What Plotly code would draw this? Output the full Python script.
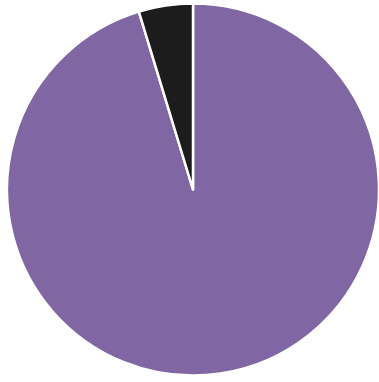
import plotly.graph_objects as go

labels = ["Purple", "Black"]
values = [95.3, 4.7]
colors = ["#8067a4", "#1c1c1c"]

W, H = 379, 382

fig = go.Figure(
    go.Pie(
        labels=labels,
        values=values,
        sort=False,
        direction="clockwise",
        rotation=0,
        marker=dict(colors=colors, line=dict(color="white", width=2.5)),
        textinfo="none",
        hoverinfo="label+percent",
        domain=dict(x=[7 / W, 379 / W], y=[6 / H, 379 / H]),
    )
)

fig.update_layout(
    width=W,
    height=H,
    margin=dict(l=0, r=0, t=0, b=0),
    showlegend=False,
    paper_bgcolor="white",
    plot_bgcolor="white",
)

fig.write_html("out.html")
